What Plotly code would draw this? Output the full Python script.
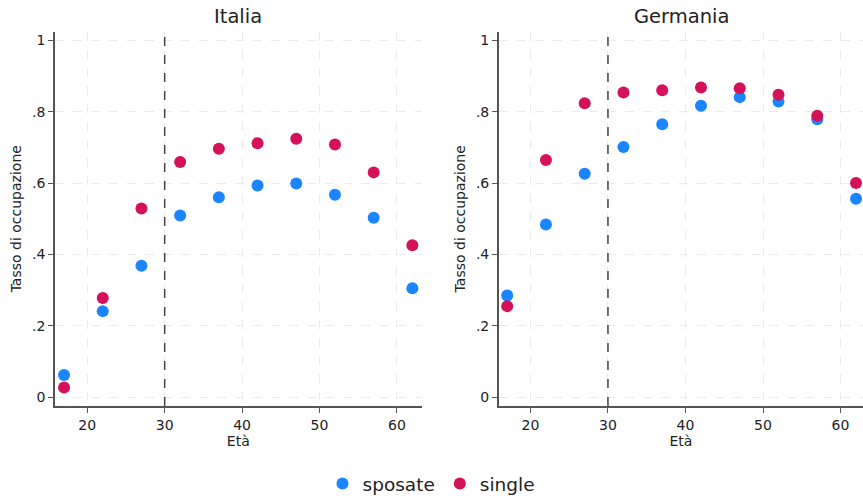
import plotly.graph_objects as go

ages = [17, 22, 27, 32, 37, 42, 47, 52, 57, 62]
italia_sposate = [0.062, 0.241, 0.368, 0.509, 0.560, 0.593, 0.599, 0.567, 0.503, 0.305]
italia_single = [0.027, 0.278, 0.529, 0.659, 0.696, 0.712, 0.724, 0.708, 0.630, 0.426]
germania_sposate = [0.285, 0.484, 0.626, 0.701, 0.765, 0.817, 0.841, 0.829, 0.779, 0.556]
germania_single = [0.255, 0.665, 0.824, 0.854, 0.860, 0.868, 0.866, 0.848, 0.789, 0.600]
y_tickvals = [0, 0.2, 0.4, 0.6, 0.8, 1]
y_ticktext = ["0", ".2", ".4", ".6", ".8", "1"]
x_tickvals = [20, 30, 40, 50, 60]

BLUE = "#1A85FF"
RED = "#D41159"
FONT = "DejaVu Sans"

fig = go.Figure()
panels = [("x", "y", italia_sposate, italia_single, True),
          ("x2", "y2", germania_sposate, germania_single, False)]
for xa, ya, sp, si, show in panels:
    fig.add_trace(go.Scatter(x=ages, y=sp, mode="markers", name="sposate",
                             marker=dict(color=BLUE, size=12), xaxis=xa, yaxis=ya,
                             showlegend=show, cliponaxis=False))
    fig.add_trace(go.Scatter(x=ages, y=si, mode="markers", name="single",
                             marker=dict(color=RED, size=12), xaxis=xa, yaxis=ya,
                             showlegend=show, cliponaxis=False))

xcommon = dict(tickvals=x_tickvals, showgrid=True, gridcolor="#EBEBEB", griddash="dash",
               gridwidth=1, showline=True, linecolor="#555555", linewidth=1.5,
               ticks="outside", ticklen=5, tickcolor="#555555", zeroline=False,
               automargin=False,
               tickfont=dict(family=FONT, size=14, color="#222222"),
               title=dict(text="Età", font=dict(family=FONT, size=14, color="#222222"), standoff=3))
ycommon = dict(tickvals=y_tickvals, ticktext=y_ticktext, range=[-0.025, 1.025],
               showgrid=True, gridcolor="#EBEBEB", griddash="dash", gridwidth=1,
               showline=True, linecolor="#555555", linewidth=1.5,
               ticks="outside", ticklen=5, tickcolor="#555555", zeroline=False,
               automargin=False,
               tickfont=dict(family=FONT, size=14, color="#222222"),
               title=dict(text="Tasso di occupazione", font=dict(family=FONT, size=14, color="#222222"), standoff=7))

fig.update_layout(
    width=863, height=500,
    margin=dict(l=0, r=0, t=0, b=0, autoexpand=False),
    plot_bgcolor="white", paper_bgcolor="white",
    font=dict(family=FONT, color="#222222"),
    xaxis=dict(domain=[0.0637, 0.4886], range=[15.83, 63.2], anchor="y", **xcommon),
    yaxis=dict(domain=[0.188, 0.937], anchor="x", **ycommon),
    xaxis2=dict(domain=[0.578, 1.0], range=[15.92, 62.9], anchor="y2", **xcommon),
    yaxis2=dict(domain=[0.188, 0.937], anchor="x2", **ycommon),
    legend=dict(orientation="h", x=0.5, xanchor="center", y=-0.006, yanchor="bottom",
                font=dict(family=FONT, size=18.5, color="#222222"), itemwidth=30,
                tracegroupgap=0),
    annotations=[
        dict(text="Italia", x=238 / 863, y=1 - 16 / 500, xref="paper", yref="paper",
             showarrow=False, font=dict(family=FONT, size=19.5, color="#222222"),
             xanchor="center", yanchor="middle"),
        dict(text="Germania", x=681 / 863, y=1 - 16 / 500, xref="paper", yref="paper",
             showarrow=False, font=dict(family=FONT, size=19.5, color="#222222"),
             xanchor="center", yanchor="middle"),
    ],
    shapes=[
        dict(type="line", xref="x", yref="y domain", x0=30, x1=30, y0=0, y1=0.995,
             line=dict(color="#444444", width=1.5, dash="dash")),
        dict(type="line", xref="x2", yref="y2 domain", x0=30, x1=30, y0=0, y1=0.995,
             line=dict(color="#444444", width=1.5, dash="dash")),
    ],
)

fig.write_html("out.html", config={"displayModeBar": False},
               post_script="document.body.style.margin='0px';document.body.style.overflow='hidden';")
